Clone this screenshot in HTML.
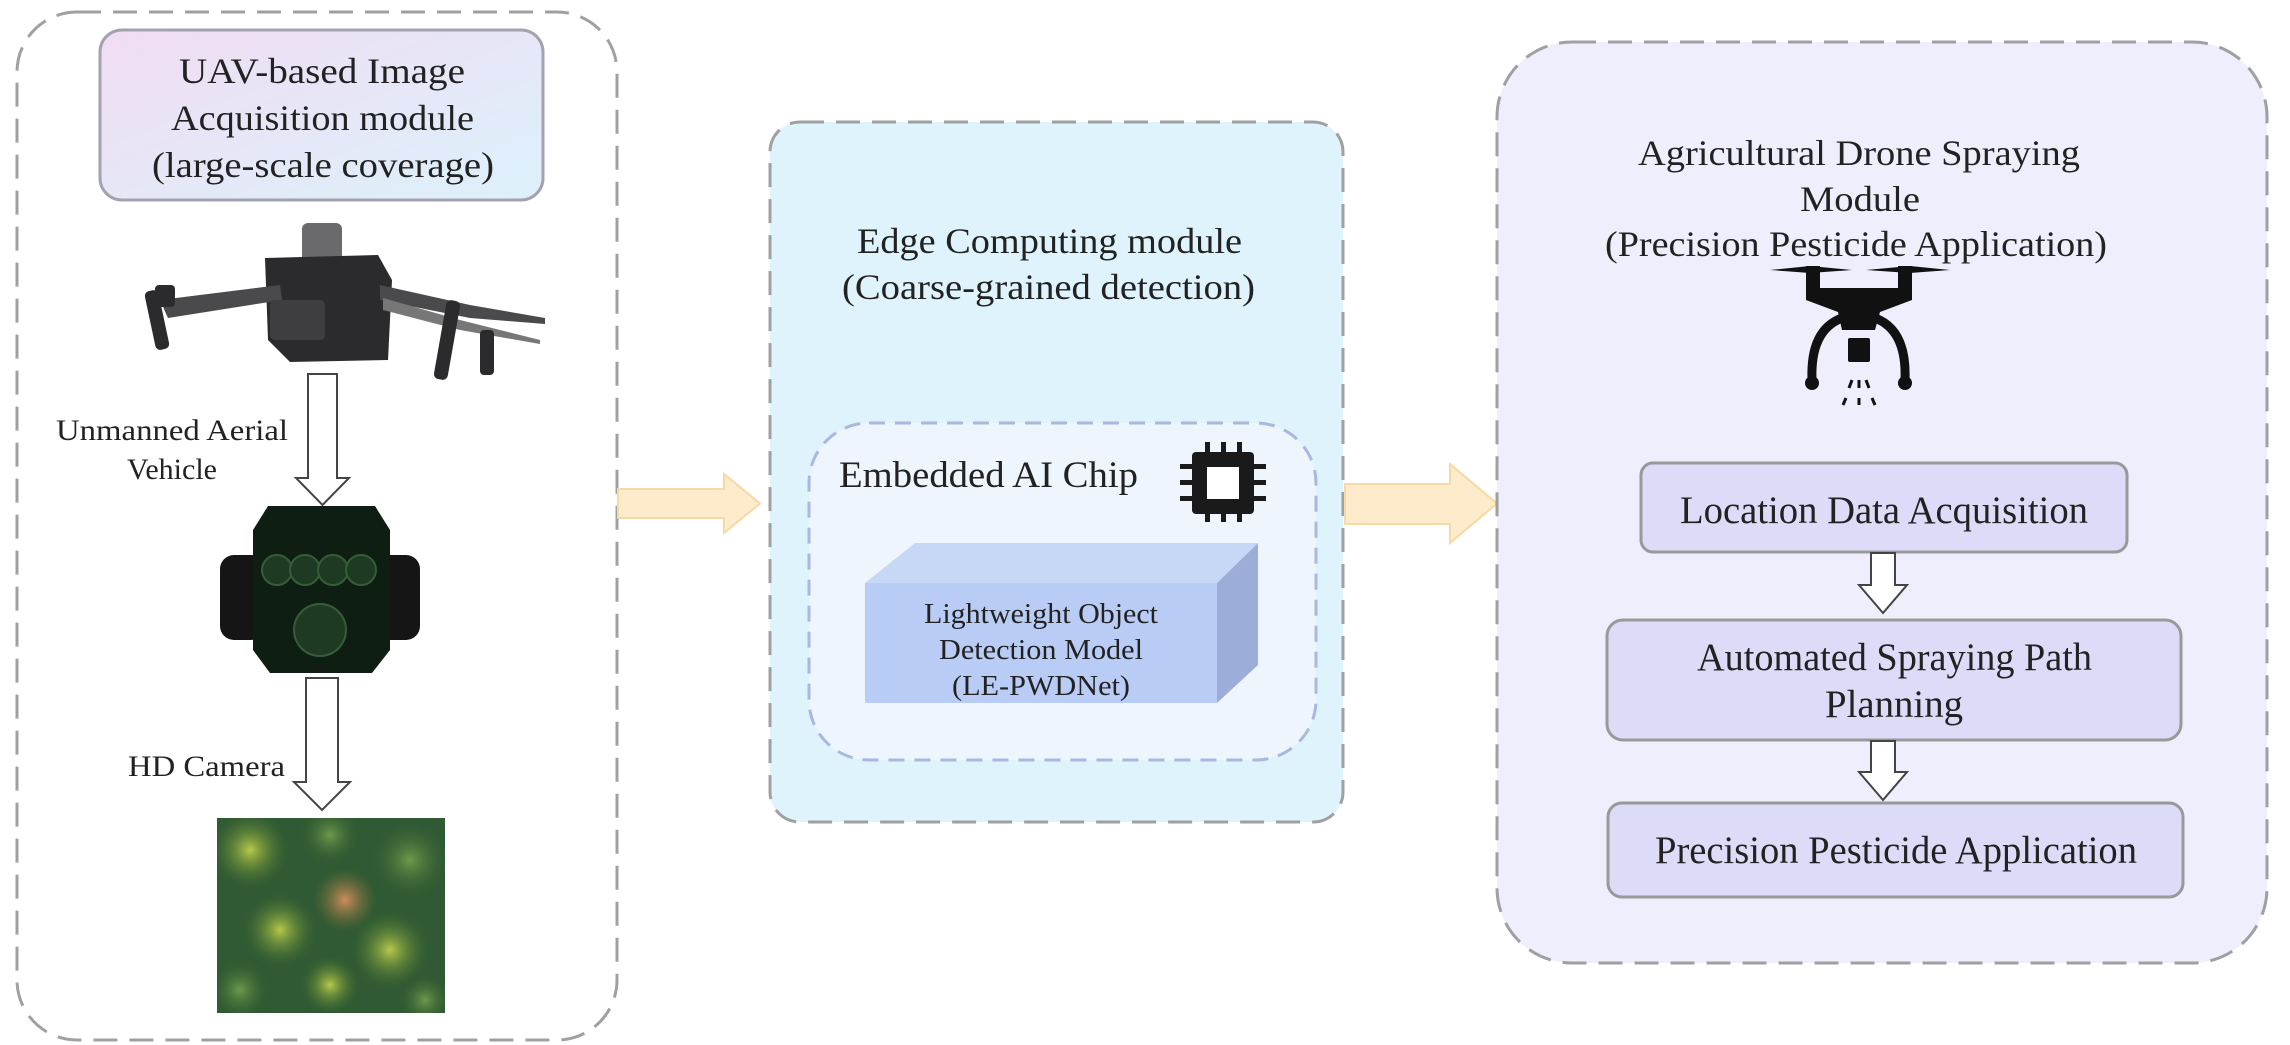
<!DOCTYPE html>
<html><head><meta charset="utf-8"><style>
body{margin:0;background:#fff;}
svg{display:block;font-family:"Liberation Serif",serif;}
</style></head><body>
<svg width="2290" height="1045" viewBox="0 0 2290 1045" xmlns="http://www.w3.org/2000/svg">
<defs>
<linearGradient id="tg" x1="0" y1="0" x2="1" y2="1">
<stop offset="0" stop-color="#f1dcf3"/><stop offset="1" stop-color="#dcf1fb"/>
</linearGradient>
<radialGradient id="tr1"><stop offset="0" stop-color="#b8c94a"/><stop offset="1" stop-color="#3f6b2e" stop-opacity="0"/></radialGradient>
<radialGradient id="tr2"><stop offset="0" stop-color="#d08d5a"/><stop offset="1" stop-color="#7a6b3a" stop-opacity="0"/></radialGradient>
<radialGradient id="tr3"><stop offset="0" stop-color="#6e9a4a"/><stop offset="1" stop-color="#244d2c" stop-opacity="0"/></radialGradient>
<clipPath id="fc"><rect x="217" y="818" width="228" height="195"/></clipPath>
</defs>

<rect x="17" y="12" width="600" height="1028" rx="60" fill="#fff" stroke="#a0a0a0" stroke-width="3" stroke-dasharray="24 12"/>
<rect x="100" y="30" width="443" height="170" rx="22" fill="url(#tg)" stroke="#a2a2b0" stroke-width="3"/>
<text x="179" y="83" font-size="36" fill="#222" textLength="286" lengthAdjust="spacingAndGlyphs">UAV-based Image</text>
<text x="171" y="130" font-size="36" fill="#222" textLength="303" lengthAdjust="spacingAndGlyphs">Acquisition module</text>
<text x="152" y="177" font-size="36" fill="#222" textLength="342" lengthAdjust="spacingAndGlyphs">(large-scale coverage)</text>
<g fill="#2b2b2d">
<rect x="302" y="223" width="40" height="40" rx="6" fill="#6a6a6c"/>
<path d="M265 258 L378 255 L392 280 L388 360 L290 362 L268 340 Z"/>
<path d="M160 300 L280 285 L282 300 L168 318 Z" fill="#4a4a4c"/>
<path d="M380 285 L470 305 L545 318 L545 324 L470 318 L380 300 Z" fill="#4a4a4c"/>
<path d="M383 298 L460 320 L540 340 L540 344 L460 330 L383 310 Z" fill="#777"/>
<rect x="150" y="290" width="14" height="60" rx="5" transform="rotate(-12 157 320)"/>
<rect x="155" y="285" width="20" height="22" rx="4"/>
<rect x="440" y="300" width="14" height="80" rx="5" transform="rotate(10 447 340)"/>
<rect x="480" y="330" width="14" height="45" rx="4"/>
<rect x="270" y="300" width="55" height="40" rx="5" fill="#3e3e40"/>
</g>
<path d="M308 374 H337 V478 H349 L322.5 505 L296 478 H308 Z" fill="#fff" stroke="#444" stroke-width="2"/>
<text x="56" y="440" font-size="30" fill="#222" textLength="232" lengthAdjust="spacingAndGlyphs">Unmanned Aerial</text>
<text x="172" y="479" font-size="30" fill="#222" text-anchor="middle">Vehicle</text>
<rect x="220" y="555" width="45" height="85" rx="14" fill="#151515"/>
<rect x="375" y="555" width="45" height="85" rx="14" fill="#151515"/>
<path d="M268 506 H375 L390 530 V650 L372 673 H270 L253 650 V530 Z" fill="#0f1e12"/>
<g fill="#1e3a22" stroke="#355e38" stroke-width="2">
<circle cx="277" cy="570" r="15"/><circle cx="305" cy="570" r="15"/><circle cx="333" cy="570" r="15"/><circle cx="361" cy="570" r="15"/>
<circle cx="320" cy="630" r="26"/>
</g>
<path d="M306 678 H338 V782 H350 L322 810 L294 782 H306 Z" fill="#fff" stroke="#444" stroke-width="2"/>
<text x="128" y="776" font-size="30" fill="#222" textLength="157" lengthAdjust="spacingAndGlyphs">HD Camera</text>
<g clip-path="url(#fc)">
<rect x="217" y="818" width="228" height="195" fill="#2f5a33"/>
<circle cx="250" cy="850" r="40" fill="url(#tr1)"/>
<circle cx="330" cy="835" r="35" fill="url(#tr3)"/>
<circle cx="410" cy="860" r="45" fill="url(#tr3)"/>
<circle cx="345" cy="900" r="32" fill="url(#tr2)"/>
<circle cx="280" cy="930" r="38" fill="url(#tr1)"/>
<circle cx="390" cy="950" r="40" fill="url(#tr1)"/>
<circle cx="240" cy="990" r="35" fill="url(#tr3)"/>
<circle cx="330" cy="985" r="30" fill="url(#tr1)"/>
<circle cx="425" cy="1000" r="30" fill="url(#tr3)"/>
</g>

<path d="M618 489 H724 V474 L760 503.5 L724 533 V518 H618 Z" fill="#fdebcc" stroke="#f5d9a6" stroke-width="2"/>

<rect x="770" y="122" width="573" height="700" rx="30" fill="#def3fc" stroke="#a0a0a0" stroke-width="3" stroke-dasharray="24 12"/>
<text x="857" y="253" font-size="36" fill="#222" textLength="385" lengthAdjust="spacingAndGlyphs">Edge Computing module</text>
<text x="842" y="299" font-size="36" fill="#222" textLength="413" lengthAdjust="spacingAndGlyphs">(Coarse-grained detection)</text>
<rect x="809" y="423" width="507" height="337" rx="60" fill="#eef5fd" stroke="#a9b8e0" stroke-width="3" stroke-dasharray="16 10"/>
<text x="839" y="487" font-size="37" fill="#222" textLength="299" lengthAdjust="spacingAndGlyphs">Embedded AI Chip</text>
<g fill="#1a1a1a">
<rect x="1192" y="452" width="62" height="62" rx="4"/>
<rect x="1180" y="464" width="86" height="5"/><rect x="1180" y="480" width="86" height="5"/><rect x="1180" y="496" width="86" height="5"/>
<rect x="1205" y="442" width="5" height="80"/><rect x="1221" y="442" width="5" height="80"/><rect x="1237" y="442" width="5" height="80"/>
<rect x="1207" y="467" width="32" height="32" fill="#fff"/>
</g>
<polygon points="865,583 915,543 1258,543 1217,583" fill="#c7d7f6"/>
<polygon points="1217,583 1258,543 1258,665 1217,703" fill="#9cadd9"/>
<rect x="865" y="583" width="352" height="120" fill="#b9ccf6"/>
<text x="924" y="623" font-size="28" fill="#222" textLength="234" lengthAdjust="spacingAndGlyphs">Lightweight Object</text>
<text x="939" y="659" font-size="28" fill="#222" textLength="204" lengthAdjust="spacingAndGlyphs">Detection Model</text>
<text x="952" y="695" font-size="28" fill="#222" textLength="178" lengthAdjust="spacingAndGlyphs">(LE-PWDNet)</text>

<path d="M1345 484 H1450 V464 L1497 503.5 L1450 543 V524 H1345 Z" fill="#fdebcc" stroke="#f5d9a6" stroke-width="2"/>

<rect x="1497" y="42" width="770" height="921" rx="75" fill="#eeeefc" stroke="#a0a0a0" stroke-width="3" stroke-dasharray="24 12"/>
<text x="1638" y="165" font-size="36" fill="#222" textLength="442" lengthAdjust="spacingAndGlyphs">Agricultural Drone Spraying</text>
<text x="1800" y="211" font-size="36" fill="#222" textLength="120" lengthAdjust="spacingAndGlyphs">Module</text>
<text x="1605" y="256" font-size="36" fill="#222" textLength="502" lengthAdjust="spacingAndGlyphs">(Precision Pesticide Application)</text>
<g fill="#111" stroke="#111">
<path d="M1770 270 L1810 266 L1852 270 L1810 273 Z" stroke="none"/>
<path d="M1866 270 L1910 266 L1950 270 L1910 273 Z" stroke="none"/>
<rect x="1806" y="266" width="14" height="26" stroke="none"/>
<rect x="1898" y="266" width="14" height="26" stroke="none"/>
<path d="M1806 288 H1912 V300 L1880 312 L1875 330 H1842 L1838 312 L1806 300 Z" stroke="none"/>
<path d="M1842 318 Q1810 330 1812 380" fill="none" stroke-width="9"/>
<path d="M1875 318 Q1907 330 1905 380" fill="none" stroke-width="9"/>
<circle cx="1812" cy="383" r="7" stroke="none"/><circle cx="1905" cy="383" r="7" stroke="none"/>
<rect x="1848" y="338" width="22" height="24" rx="2" stroke="none"/>
<path d="M1852 380 L1849 388 M1859 380 L1859 388 M1866 380 L1869 388 M1846 398 L1843 405 M1859 398 L1859 405 M1872 398 L1875 405" stroke-width="3" fill="none"/>
</g>
<rect x="1641" y="463" width="486" height="89" rx="12" fill="#dcdcf8" stroke="#999" stroke-width="3"/>
<text x="1680" y="523" font-size="39" fill="#222" textLength="408" lengthAdjust="spacingAndGlyphs">Location Data Acquisition</text>
<path d="M1871 553 H1895 V585 H1907 L1883 613 L1859 585 H1871 Z" fill="#fff" stroke="#444" stroke-width="2"/>
<rect x="1607" y="620" width="574" height="120" rx="16" fill="#dcdcf8" stroke="#999" stroke-width="3"/>
<text x="1697" y="670" font-size="39" fill="#222" textLength="395" lengthAdjust="spacingAndGlyphs">Automated Spraying Path</text>
<text x="1825" y="717" font-size="39" fill="#222" textLength="138" lengthAdjust="spacingAndGlyphs">Planning</text>
<path d="M1871 741 H1895 V772 H1907 L1883 800 L1859 772 H1871 Z" fill="#fff" stroke="#444" stroke-width="2"/>
<rect x="1608" y="803" width="575" height="94" rx="14" fill="#dcdcf8" stroke="#999" stroke-width="3"/>
<text x="1655" y="863" font-size="39" fill="#222" textLength="482" lengthAdjust="spacingAndGlyphs">Precision Pesticide Application</text>
</svg>
</body></html>
